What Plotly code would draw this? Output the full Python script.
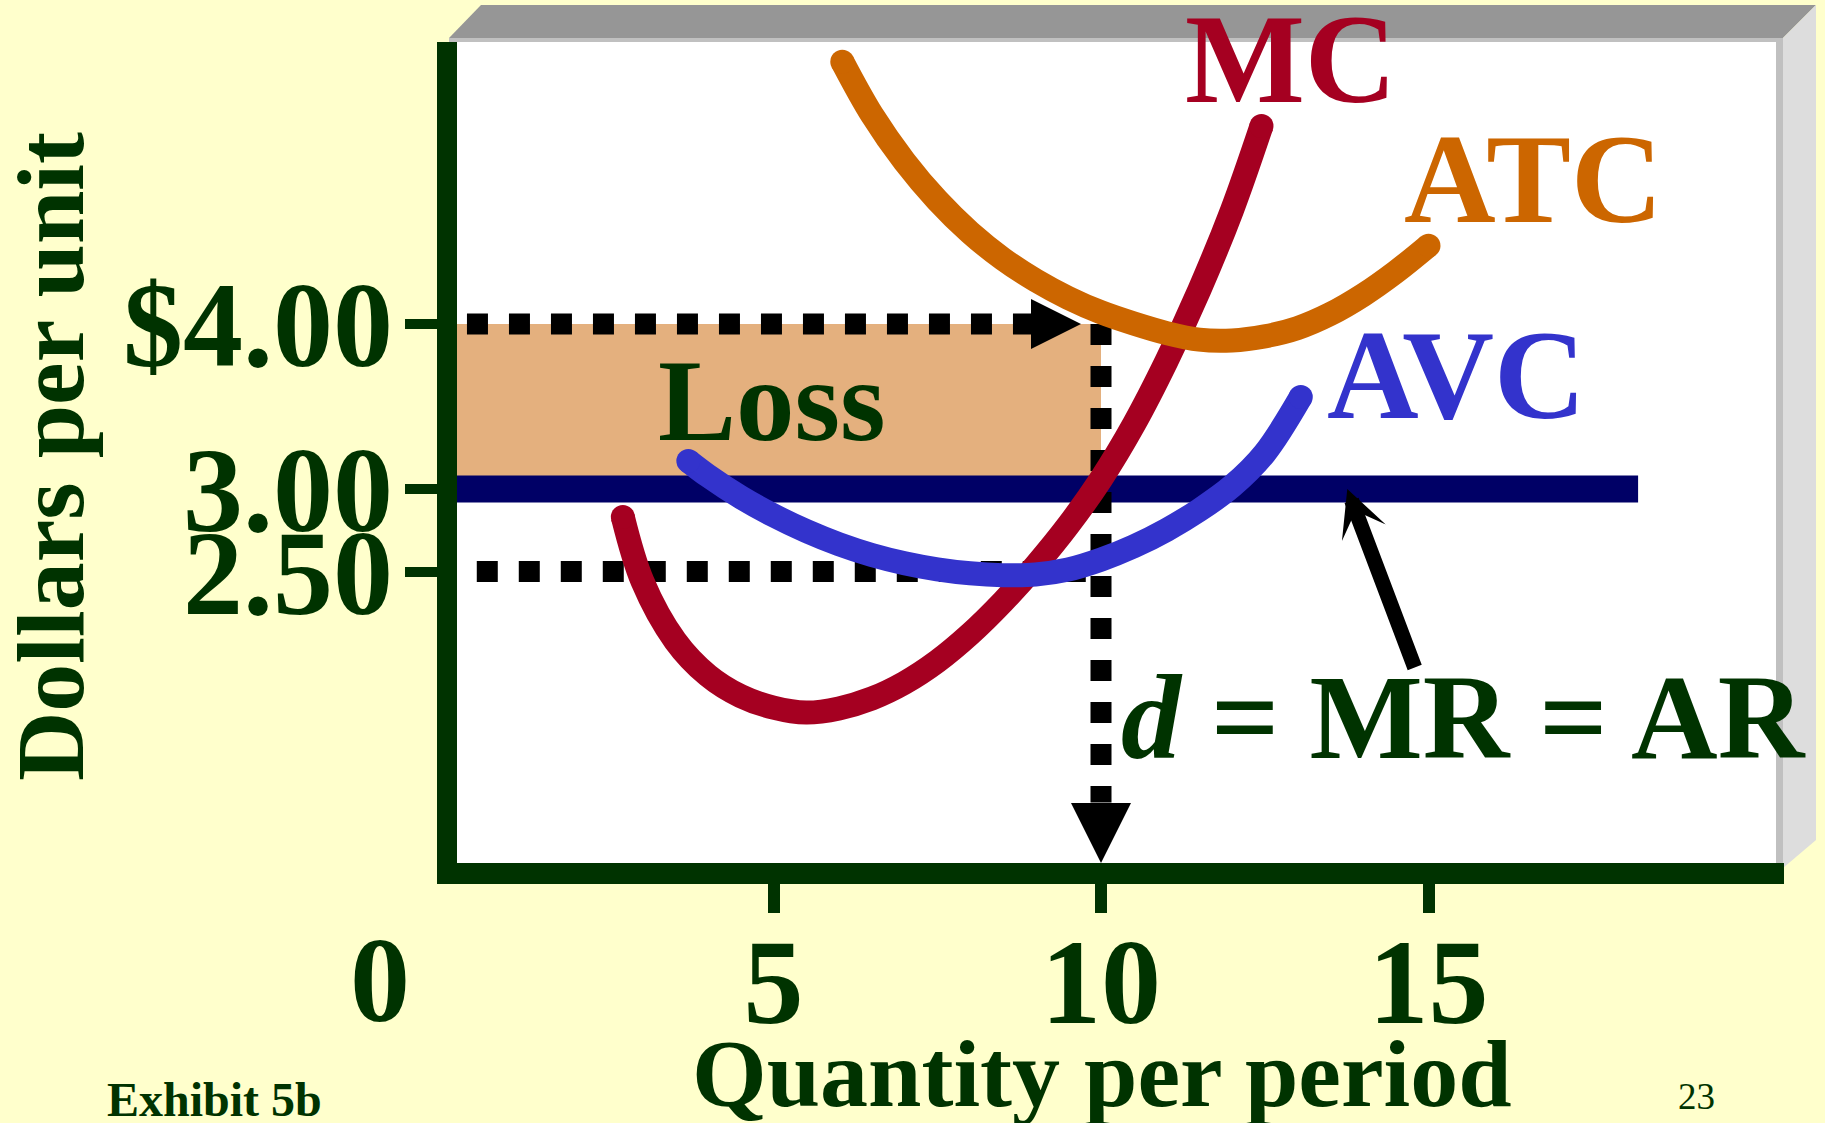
import plotly.graph_objects as go

# ---------------- data ----------------
q_mc = [2.7, 3.0, 3.5, 4.0, 4.5, 5.0, 5.5, 6.0, 6.5, 7.0, 7.5, 8.0, 8.5,
        9.0, 9.5, 10.0, 10.5, 11.0, 11.5, 12.0, 12.45]
mc = [2.83, 2.44, 2.08, 1.87, 1.745, 1.675, 1.645, 1.67, 1.73, 1.825, 1.955,
      2.12, 2.315, 2.535, 2.78, 3.06, 3.39, 3.775, 4.205, 4.69, 5.2]

q_atc = [6.05, 6.5, 7.0, 7.5, 8.0, 8.5, 9.0, 9.5, 10.0, 10.5, 11.0, 11.5,
         12.0, 12.5, 13.0, 13.5, 14.0, 14.5, 15.0]
atc = [5.59, 5.27, 4.985, 4.75, 4.555, 4.395, 4.265, 4.158, 4.071, 4.003,
       3.945, 3.905, 3.90, 3.925, 3.975, 4.06, 4.175, 4.315, 4.475]

q_avc = [3.7, 4.0, 4.5, 5.0, 5.5, 6.0, 6.5, 7.0, 7.5, 8.0, 8.5, 9.0, 9.5,
         10.0, 10.5, 11.0, 11.5, 12.0, 12.5, 13.05]
avc = [3.17, 3.08, 2.95, 2.84, 2.745, 2.665, 2.60, 2.55, 2.513, 2.489, 2.478,
       2.482, 2.512, 2.572, 2.652, 2.752, 2.872, 3.017, 3.217, 3.557]

price = 3.00          # d = MR = AR
atc_at_q = 4.00       # average total cost at the chosen output
avc_at_q = 2.50       # average variable cost at the chosen output
q_star = 10           # output where MR = MC
mr_q_end = 18.2       # right end of the demand line

x_tickvals = [5, 10, 15]
x_ticktext = ["5", "10", "15"]
y_tickvals = [2.5, 3.0, 4.0]
y_ticktext = ["2.50", "3.00", "$4.00"]

# ---------------- style ----------------
GREEN = "#003300"
MC_COL = "#A50021"
ATC_COL = "#CC6600"
AVC_COL = "#3333CC"
MR_COL = "#000066"
LOSS_COL = "#E4B07E"
FONT = "Liberation Serif"

W, H = 1825, 1123
L, R, T, B = 457, 1784, 42, 863          # plot area in pixels


def px_x(p):
    return (p - L) / (R - L)


def px_y(p):
    return (B - p) / (B - T)


fig = go.Figure()

# demand / marginal revenue line
fig.add_trace(go.Scatter(x=[0, mr_q_end], y=[price, price], mode="lines",
                         line=dict(color=MR_COL, width=27), hoverinfo="skip"))

# dotted guides
dot = dict(color="black", width=21, dash="dot")
fig.add_trace(go.Scatter(x=[0.32, 8.95], y=[atc_at_q, atc_at_q], mode="lines",
                         line=dot, hoverinfo="skip"))
fig.add_trace(go.Scatter(x=[0.47, q_star], y=[avc_at_q, avc_at_q], mode="lines",
                         line=dot, hoverinfo="skip"))
fig.add_trace(go.Scatter(x=[q_star, q_star], y=[atc_at_q, 1.1], mode="lines",
                         line=dot, hoverinfo="skip"))

# cost curves with rounded ends
for qs, vs, col in [(q_mc, mc, MC_COL), (q_atc, atc, ATC_COL), (q_avc, avc, AVC_COL)]:
    fig.add_trace(go.Scatter(x=qs, y=vs, mode="lines",
                             line=dict(color=col, width=24, shape="spline", smoothing=1.0),
                             hoverinfo="skip"))
    fig.add_trace(go.Scatter(x=[qs[0], qs[-1]], y=[vs[0], vs[-1]], mode="markers",
                             marker=dict(color=col, size=24, line=dict(width=0)),
                             hoverinfo="skip"))

shapes = [
    # loss rectangle
    dict(type="rect", xref="x", yref="y", x0=0, x1=q_star, y0=price, y1=atc_at_q,
         fillcolor=LOSS_COL, line=dict(width=0), layer="below"),
    # 3-D frame: top bevel
    dict(type="path", xref="paper", yref="paper", layer="below",
         path=f"M{px_x(449)},{px_y(38)} L{px_x(481)},{px_y(5)} L{px_x(1816)},{px_y(5)} "
              f"L{px_x(1783)},{px_y(38)} Z",
         fillcolor="#969696", line=dict(width=0)),
    dict(type="rect", xref="paper", yref="paper", layer="below",
         x0=px_x(449), x1=px_x(1783), y0=px_y(42), y1=px_y(38),
         fillcolor="#C0C0C0", line=dict(width=0)),
    # 3-D frame: right side
    dict(type="path", xref="paper", yref="paper", layer="below",
         path=f"M{px_x(1783)},{px_y(38)} L{px_x(1816)},{px_y(5)} L{px_x(1816)},{px_y(840)} "
              f"L{px_x(1783)},{px_y(868)} Z",
         fillcolor="#DDDDDD", line=dict(width=0)),
    dict(type="rect", xref="paper", yref="paper", layer="below",
         x0=px_x(1776), x1=px_x(1783), y0=px_y(868), y1=px_y(38),
         fillcolor="#C0C0C0", line=dict(width=0)),
]

bold = dict(family=FONT, weight="bold")
mid = dict(xanchor="center", yanchor="middle", showarrow=False)

annotations = [
    # arrows
    dict(x=q_star, y=atc_at_q, xref="x", yref="y", text="", showarrow=True,
         ax=-70, ay=0, arrowhead=2, arrowwidth=2, arrowsize=5, standoff=20,
         arrowcolor="black"),
    dict(x=q_star, y=0, xref="x", yref="paper", text="", showarrow=True,
         ax=0, ay=-60, arrowhead=2, arrowwidth=2, arrowsize=6, standoff=0,
         arrowcolor="black"),
    dict(x=13.76, y=price, xref="x", yref="y", text="", showarrow=True,
         ax=68, ay=180, arrowhead=3, arrowwidth=15, arrowsize=0.52,
         arrowcolor="black"),
    # curve labels
    dict(x=12.90, y=5.606, xref="x", yref="y", text="MC",
         font=dict(size=127, color=MC_COL, **bold), **mid),
    dict(x=16.61, y=4.879, xref="x", yref="y", text="ATC",
         font=dict(size=127, color=ATC_COL, **bold), **mid),
    dict(x=15.42, y=3.688, xref="x", yref="y", text="AVC",
         font=dict(size=127, color=AVC_COL, **bold), **mid),
    dict(x=4.98, y=3.539, xref="x", yref="y", text="Loss",
         font=dict(size=117, color=GREEN, **bold), **mid),
    dict(x=15.53, y=1.618, xref="x", yref="y", text="<i>d</i> = MR = AR",
         font=dict(size=120, color=GREEN, **bold), **mid),
    # axis titles and slide notes
    dict(x=px_x(50), y=px_y(457), xref="paper", yref="paper", text="Dollars per unit",
         textangle=-90, font=dict(size=96, color=GREEN, **bold), **mid),
    dict(x=px_x(1102), y=px_y(1073), xref="paper", yref="paper",
         text="Quantity per period", font=dict(size=96, color=GREEN, **bold), **mid),
    dict(x=px_x(380), y=px_y(980), xref="paper", yref="paper", text="0",
         font=dict(size=120, color=GREEN, **bold), **mid),
    dict(x=px_x(214), y=px_y(1099), xref="paper", yref="paper", text="Exhibit 5b",
         font=dict(size=48, color=GREEN, **bold), **mid),
    dict(x=px_x(1696), y=px_y(1096), xref="paper", yref="paper", text="23",
         font=dict(size=37, color=GREEN, family=FONT), **mid),
]

x_lo = (L - 446) / 65.5
x_hi = (R - 446) / 65.5
y_hi = 4 + (324 - T) / 165
y_lo = 4 - (B - 324) / 165

fig.update_layout(
    width=W, height=H, autosize=False,
    margin=dict(l=L, r=W - R, t=T, b=H - B, pad=0),
    paper_bgcolor="#FFFFCC", plot_bgcolor="white",
    showlegend=False,
    shapes=shapes, annotations=annotations,
    xaxis=dict(range=[x_lo, x_hi], showgrid=False, zeroline=False,
               showline=True, linecolor=GREEN, linewidth=21,
               ticks="outside", ticklen=29, tickwidth=12, tickcolor=GREEN,
               tickvals=x_tickvals, ticktext=x_ticktext, ticklabelstandoff=-34,
               tickfont=dict(size=120, color=GREEN, **bold)),
    yaxis=dict(range=[y_lo, y_hi], showgrid=False, zeroline=False,
               showline=True, linecolor=GREEN, linewidth=20,
               ticks="outside", ticklen=32, tickwidth=10, tickcolor=GREEN,
               tickvals=y_tickvals, ticktext=y_ticktext, ticklabelstandoff=-12,
               tickfont=dict(size=120, color=GREEN, **bold)),
)

fig.write_html("out.html")
